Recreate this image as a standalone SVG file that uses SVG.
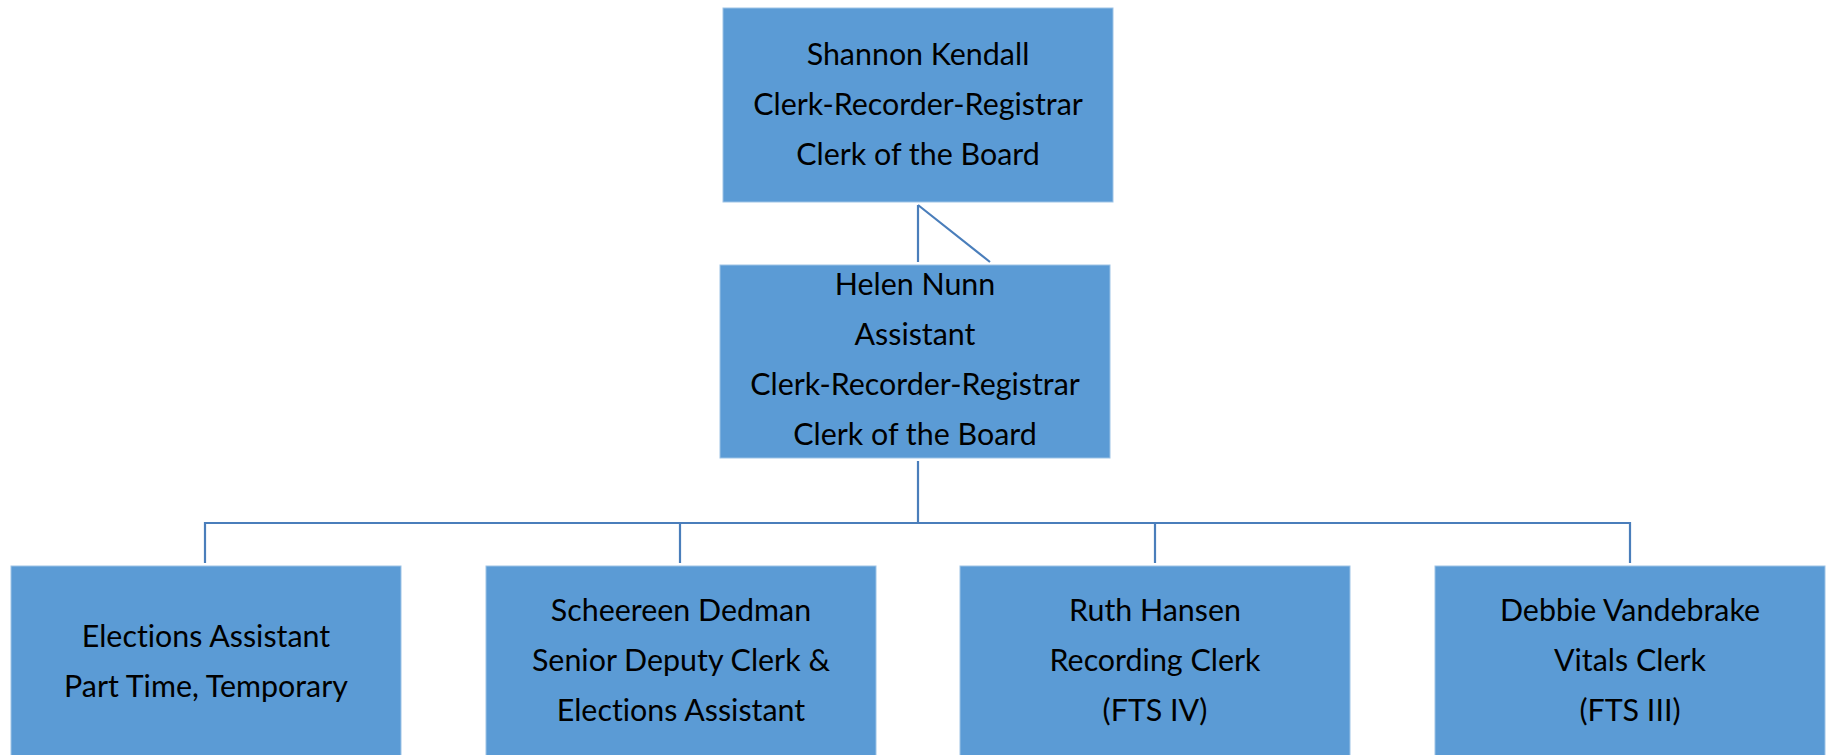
<svg xmlns="http://www.w3.org/2000/svg" width="1827" height="755" viewBox="0 0 1827 755">
  <style>
    .box { fill: #5B9BD5; stroke: #9DC3E6; stroke-width: 1; }
    .lbl { font-family: Lato, "Open Sans", sans-serif; font-size: 30.4px; fill: #000; text-anchor: middle; font-variant-ligatures: none; }
    .conn { fill: none; stroke: #4A7EBB; stroke-width: 2.2; }
  </style>
  <rect width="1827" height="755" fill="#fff"/>

  <g id="connectors">
    <path class="conn" d="M918 205 V262 M918 205 L990 262"/>
    <path class="conn" d="M918 461 V523 M205 563 V523 H1630 V563 M680 523 V563 M1155 523 V563"/>
  </g>

  <g id="node-kendall">
    <rect class="box" x="723" y="8" width="390" height="194"/>
    <text class="lbl" x="918" y="65">Shannon Kendall</text>
    <text class="lbl" x="918" y="115">Clerk-Recorder-Registrar</text>
    <text class="lbl" x="918" y="165">Clerk of the Board</text>
  </g>

  <g id="node-nunn">
    <rect class="box" x="720" y="265" width="390" height="193"/>
    <text class="lbl" x="915" y="295">Helen Nunn</text>
    <text class="lbl" x="915" y="345">Assistant</text>
    <text class="lbl" x="915" y="395">Clerk-Recorder-Registrar</text>
    <text class="lbl" x="915" y="445">Clerk of the Board</text>
  </g>

  <g id="node-elections">
    <rect class="box" x="11" y="566" width="390" height="200"/>
    <text class="lbl" x="206" y="647">Elections Assistant</text>
    <text class="lbl" x="206" y="697">Part Time, Temporary</text>
  </g>

  <g id="node-dedman">
    <rect class="box" x="486" y="566" width="390" height="200"/>
    <text class="lbl" x="681" y="621">Scheereen Dedman</text>
    <text class="lbl" x="681" y="671">Senior Deputy Clerk &amp;</text>
    <text class="lbl" x="681" y="721">Elections Assistant</text>
  </g>

  <g id="node-hansen">
    <rect class="box" x="960" y="566" width="390" height="200"/>
    <text class="lbl" x="1155" y="621">Ruth Hansen</text>
    <text class="lbl" x="1155" y="671">Recording Clerk</text>
    <text class="lbl" x="1155" y="721">(FTS IV)</text>
  </g>

  <g id="node-vandebrake">
    <rect class="box" x="1435" y="566" width="390" height="200"/>
    <text class="lbl" x="1630" y="621">Debbie Vandebrake</text>
    <text class="lbl" x="1630" y="671">Vitals Clerk</text>
    <text class="lbl" x="1630" y="721">(FTS III)</text>
  </g>
</svg>
